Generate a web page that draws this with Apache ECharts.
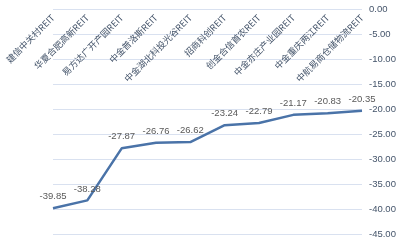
<!DOCTYPE html>
<html><head><meta charset="utf-8">
<script src="https://cdn.jsdelivr.net/npm/echarts@6/dist/echarts.min.js"></script>
<style>html,body{margin:0;padding:0;background:#fff}#c{width:400px;height:243px}</style>
</head><body><div id="c"></div>
<script>
const categories = ["建信中关村REIT","华夏合肥高新REIT","易方达广开产园REIT","中金普洛斯REIT","中金湖北科投光谷REIT","招商科创REIT","创金合信首农REIT","中金亦庄产业园REIT","中金重庆两江REIT","中航易商仓储物流REIT"];
const values = [-39.85,-38.28,-27.87,-26.76,-26.62,-23.24,-22.79,-21.17,-20.83,-20.35];
const yMin = -45, yMax = 0, yStep = 5;

const chart = echarts.init(document.getElementById('c'));
chart.setOption({
  animation: false,
  grid: {left: 53, right: 38, top: 9, bottom: 9, containLabel: false},
  xAxis: {
    type: 'category', data: categories, boundaryGap: false, position: 'top',
    axisLine: {show: false}, axisTick: {show: false}, splitLine: {show: false},
    axisLabel: {inside: true, rotate: 45, fontSize: 9, color: '#44546a', margin: 7,
      fontFamily: '"Noto Sans CJK SC", sans-serif', interval: 0}
  },
  yAxis: {
    type: 'value', position: 'right', min: yMin, max: yMax, interval: yStep,
    axisLine: {show: false}, axisTick: {show: false},
    splitLine: {lineStyle: {color: '#d9e1f0', width: 1}},
    axisLabel: {formatter: v => v.toFixed(2), fontSize: 9.5, color: '#44546a', margin: 7,
      fontFamily: '"Liberation Sans", sans-serif'}
  },
  series: [{
    type: 'line', data: values, symbol: 'circle', symbolSize: 1, showSymbol: true,
    itemStyle: {color: '#4a73a8', opacity: 0},
    lineStyle: {color: '#4a73a8', width: 2.5},
    label: {show: true, position: 'top', distance: 6, fontSize: 9.5, color: '#595959', opacity: 1,
      fontFamily: '"Liberation Sans", sans-serif', formatter: p => p.value.toFixed(2)}
  }]
});
</script></body></html>
